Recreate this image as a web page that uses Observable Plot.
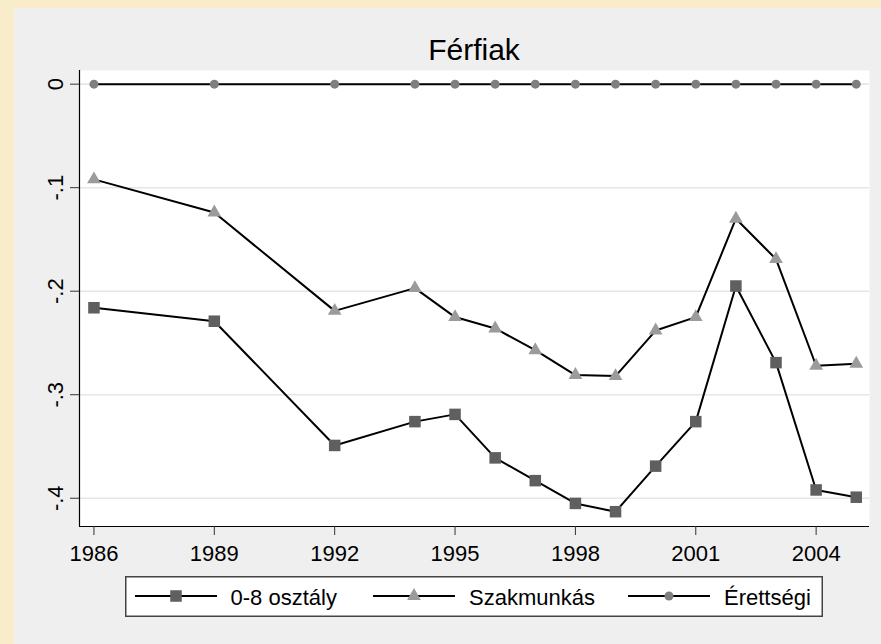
<!DOCTYPE html>
<html>
<head>
<meta charset="utf-8">
<script src="https://cdn.jsdelivr.net/npm/d3@7"></script>
<script src="https://cdn.jsdelivr.net/npm/@observablehq/plot@0.6"></script>
<style>
  html, body { margin: 0; padding: 0; }
  body { width: 881px; height: 644px; background: #f8ecca; position: relative; overflow: hidden;
         font-family: "Liberation Sans", Arial, sans-serif; }
  #panel { position: absolute; left: 14px; top: 8px; width: 867px; height: 636px; background: #efefef; }
  #title { position: absolute; left: 65px; width: 790px; top: 27px; text-align: center;
           font-size: 30px; line-height: 30px; color: #000; }
  #chart { position: absolute; left: 0; top: 0; }
  #legend { position: absolute; left: 111px; top: 568px; }
</style>
</head>
<body>
<div id="panel">
  <div id="title">Férfiak</div>
  <div id="chart"></div>
  <div id="legend"></div>
</div>
<script>
// ---- data ----
const years = [1986, 1989, 1992, 1994, 1995, 1996, 1997, 1998, 1999, 2000, 2001, 2002, 2003, 2004, 2005];
const seriesNames = ["0-8 osztály", "Szakmunkás", "Érettségi"];
const osztaly08 = [-0.216, -0.229, -0.349, -0.326, -0.319, -0.361, -0.383, -0.405, -0.413, -0.369, -0.326, -0.195, -0.269, -0.392, -0.399];
const szakmunkas = [-0.092, -0.124, -0.219, -0.197, -0.225, -0.236, -0.257, -0.281, -0.282, -0.238, -0.225, -0.130, -0.169, -0.272, -0.270];
const erettsegi = [0, 0, 0, 0, 0, 0, 0, 0, 0, 0, 0, 0, 0, 0, 0];
const xTicks = [1986, 1989, 1992, 1995, 1998, 2001, 2004];
const yTicks = [0, -0.1, -0.2, -0.3, -0.4];
const yTickLabels = ["0", "-.1", "-.2", "-.3", "-.4"];

// ---- styles ----
const seriesValues = [osztaly08, szakmunkas, erettsegi];
const symbols = ["square", "triangle", "circle"];
const fills = ["#5f5f5f", "#9b9b9b", "#7f7f7f"];
const radii = [6.5, 5.1, 4.5];

const table = [];
seriesNames.forEach((s, k) => years.forEach((yr, i) => table.push({series: s, k, year: yr, value: seriesValues[k][i]})));

const xDomain = [1985.64, 2005.33];
const yDomain = [-0.4273, 0.0132];
const font = "'Liberation Sans', Arial, sans-serif";

const marks = [
  Plot.frame({fill: "white", stroke: null}),
  Plot.gridY(yTicks, {stroke: "#e6e6e6", strokeWidth: 1.6, strokeOpacity: 1}),
  Plot.ruleX([xDomain[0]], {stroke: "#000", strokeWidth: 1.2}),
  Plot.ruleY([yDomain[0]], {stroke: "#000", strokeWidth: 1.2}),
  Plot.axisX(xTicks, {tickSize: 9, tickPadding: 10, tickFormat: d => String(d), stroke: "#333", label: null, fill: "#000", fontSize: 22}),
  Plot.axisY(yTicks, {tickSize: 9, tickFormat: () => "", stroke: "#333", label: null}),
  Plot.text(yTicks, {y: d => d, text: (d, i) => yTickLabels[i], frameAnchor: "left", dx: -17,
                     rotate: -90, textAnchor: "middle", lineAnchor: "bottom", fill: "#000", fontSize: 22})
];
seriesNames.forEach((s, k) => {
  const d = table.filter(r => r.k === k);
  marks.push(Plot.line(d, {x: "year", y: "value", stroke: "#000", strokeWidth: 2}));
  marks.push(Plot.dot(d, {x: "year", y: "value", symbol: () => symbols[k], r: radii[k], fill: fills[k], stroke: null}));
});

const chart = Plot.plot({
  width: 867, height: 560,
  marginLeft: 65, marginRight: 12, marginTop: 62, marginBottom: 42,
  style: {background: "transparent", fontFamily: font, fontSize: "22px", color: "#000", overflow: "visible"},
  x: {domain: xDomain, label: null},
  y: {domain: yDomain, label: null},
  symbol: {type: "identity"},
  marks
});
document.getElementById("chart").appendChild(chart);

// ---- legend ----
const lw = 698, lh = 41;
const legend = d3.select("#legend").append("svg").attr("width", lw).attr("height", lh)
  .style("overflow", "visible").style("font-family", font);
legend.append("rect").attr("x", 0.75).attr("y", 0.75).attr("width", lw - 1.5).attr("height", lh - 1.5)
  .attr("fill", "white").attr("stroke", "#444").attr("stroke-width", 1.5);
const keyStarts = [10, 248, 503];
const textStarts = [105.5, 344, 599];
const symMap = {square: d3.symbolSquare, triangle: d3.symbolTriangle, circle: d3.symbolCircle};
seriesNames.forEach((s, k) => {
  legend.append("line").attr("x1", keyStarts[k]).attr("x2", keyStarts[k] + 82).attr("y1", 20).attr("y2", 20)
    .attr("stroke", "#000").attr("stroke-width", 2);
  legend.append("path").attr("d", d3.symbol(symMap[symbols[k]], Math.PI * radii[k] * radii[k])())
    .attr("transform", `translate(${keyStarts[k] + 41},20)`).attr("fill", fills[k]);
  legend.append("text").attr("x", textStarts[k]).attr("y", 28.5).attr("font-size", 22).attr("fill", "#000").text(s);
});
</script>
</body>
</html>
